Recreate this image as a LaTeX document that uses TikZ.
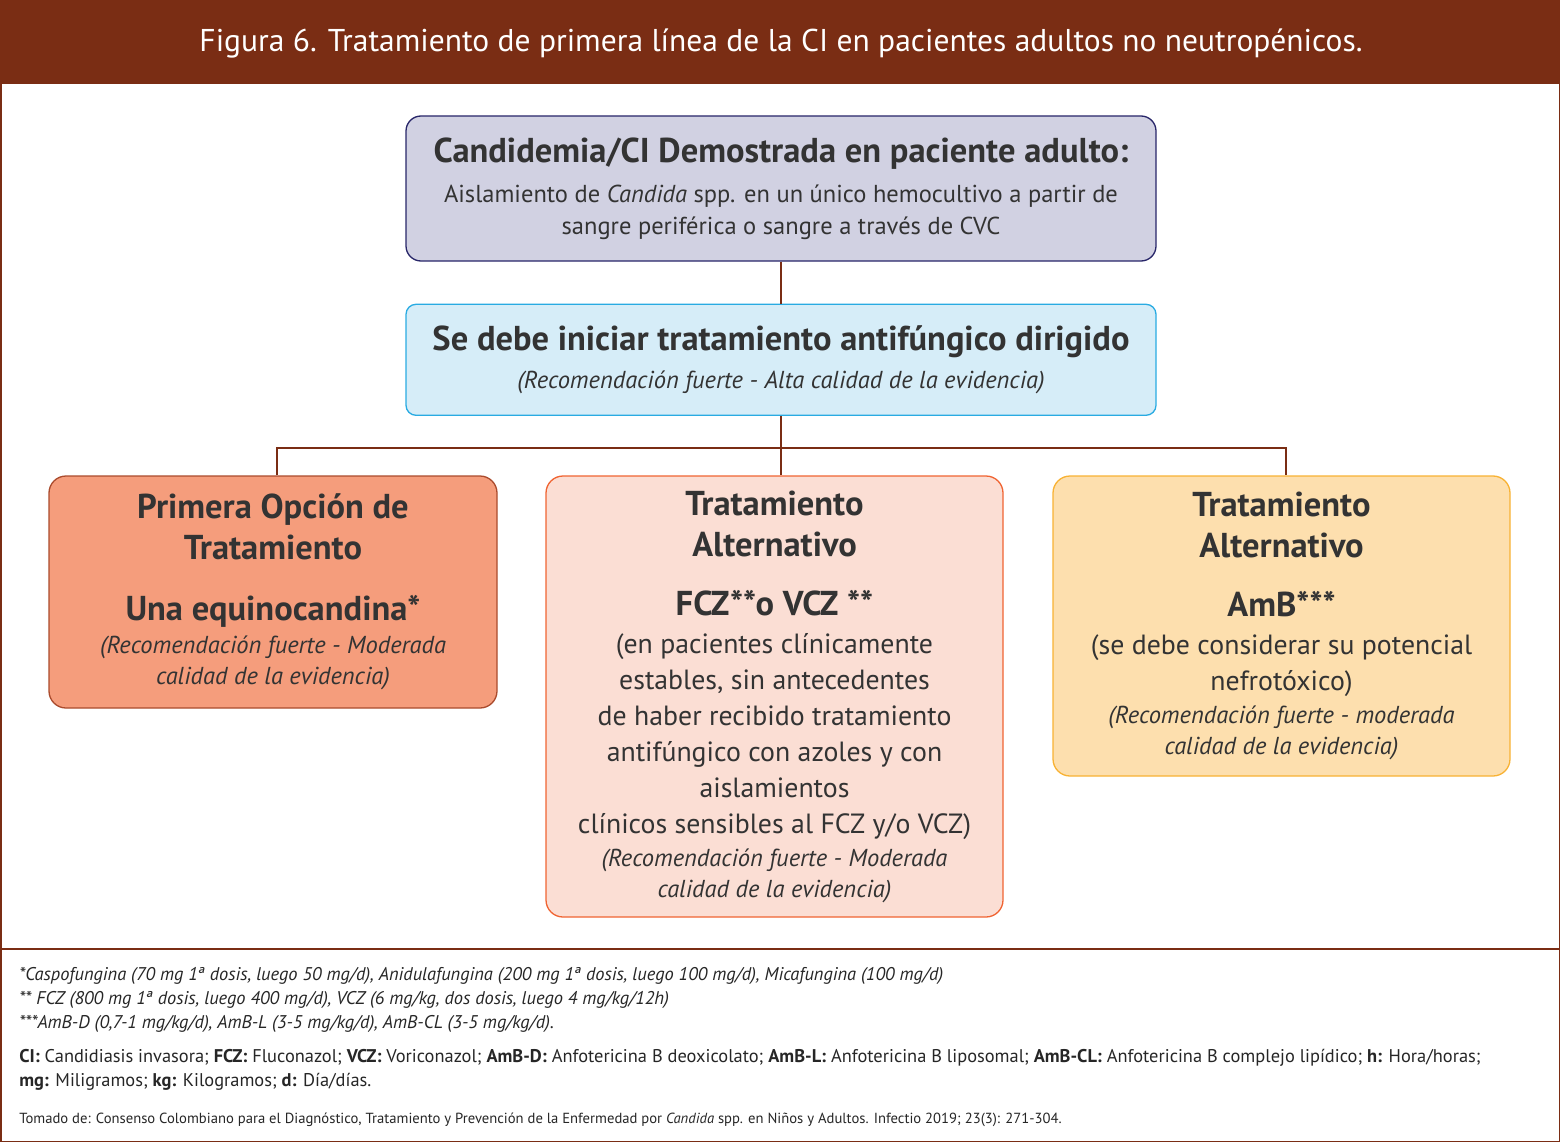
\documentclass[tikz,border=0pt]{standalone}
\usepackage{fontspec}
\setmainfont{PT Sans}
\usepackage{xcolor}
\usetikzlibrary{calc,positioning}

\definecolor{marron}{RGB}{122,45,20}
\definecolor{texto}{RGB}{51,51,51}
\definecolor{lilaf}{RGB}{209,209,226}
\definecolor{lilab}{RGB}{40,38,105}
\definecolor{celestef}{RGB}{214,237,248}
\definecolor{celesteb}{RGB}{41,171,226}
\definecolor{salmonf}{RGB}{245,157,124}
\definecolor{salmonb}{RGB}{170,75,45}
\definecolor{rosaf}{RGB}{251,222,212}
\definecolor{rosab}{RGB}{240,100,50}
\definecolor{amarf}{RGB}{253,223,174}
\definecolor{amarb}{RGB}{248,178,52}

\newcommand\hdfont{\fontsize{34.5}{36}\selectfont\bfseries}
\newcommand\txfont{\fontsize{27.8}{36}\selectfont}
\newcommand\smfont{\fontsize{24.5}{36}\selectfont}
\newcommand\itfont{\fontsize{24.5}{36}\selectfont\itshape}
\newcommand\ftfont{\fontsize{18.4}{24}\selectfont}

\begin{document}
\begin{tikzpicture}[x=1pt,y=-1pt,semithick]
\tikzstyle{caja}=[rectangle, rounded corners=17pt, line width=1.3pt, inner sep=0pt, align=center, text=texto, font=\txfont]
\tikzstyle{conn}=[draw=marron, line width=2pt]
\tikzstyle{nota}=[anchor=base west, inner sep=0pt, text=black!85, font=\ftfont]

\useasboundingbox (0,0) rectangle (1560,1142);
\fill[marron] (0,0) rectangle (1560,84);
\draw[marron, line width=1.5pt] (0.75,84) -- (0.75,1141.25) -- (1559.25,1141.25) -- (1559.25,84);
\draw[marron, line width=1.5pt] (0,949) -- (1560,949);

\node[anchor=base, inner sep=0pt, text=white, font=\fontsize{31.5}{36}\selectfont] (title) at (781,52)
  {Figura 6. Tratamiento de primera línea de la CI en pacientes adultos no neutropénicos.};

\node[caja, fill=lilaf, draw=lilab, rounded corners=15pt, minimum width=750, minimum height=145] (diag) at (781,188.5)
  {\hdfont Candidemia/CI Demostrada en paciente adulto:\\[4pt]
   \smfont Aislamiento de \textit{Candida} spp. en un único hemocultivo a partir de\\[-4pt]
   \smfont sangre periférica o sangre a través de CVC};
\node[caja, fill=celestef, draw=celesteb, rounded corners=10pt, minimum width=750, minimum height=111] (inicio) [below=42pt of diag]
  {\hdfont Se debe iniciar tratamiento antifúngico dirigido\\[2pt]
   \itfont (Recomendación fuerte - Alta calidad de la evidencia)};

\node[caja, fill=salmonf, draw=salmonb, minimum width=448, minimum height=232] (primera) at (273,592)
  {\hdfont Primera Opción de\\[5pt] \hdfont Tratamiento\\[25pt]
   \hdfont Una equinocandina*\\[-3pt]
   \itfont (Recomendación fuerte - Moderada\\[-5pt] \itfont calidad de la evidencia)};
\node[caja, fill=rosaf, draw=rosab, minimum width=457, minimum height=441] (altfcz) at (774.5,696.5)
  {\hdfont Tratamiento\\[5pt] \hdfont Alternativo\\[23pt]
   \hdfont FCZ**o VCZ **\\[2pt]
   (en pacientes clínicamente\\ estables, sin antecedentes\\ de haber recibido tratamiento\\
   antifúngico con azoles y con\\ aislamientos\\ clínicos sensibles al FCZ y/o VCZ)\\[-3pt]
   \itfont (Recomendación fuerte - Moderada\\[-5pt] \itfont calidad de la evidencia)};
\node[caja, fill=amarf, draw=amarb, minimum width=457, minimum height=300] (altamb) at (1281.5,626)
  {\hdfont Tratamiento\\[5pt] \hdfont Alternativo\\[23pt]
   \hdfont AmB***\\[2pt]
   (se debe considerar su potencial\\ nefrotóxico)\\[-3pt]
   \itfont (Recomendación fuerte - moderada\\[-5pt] \itfont calidad de la evidencia)};

\coordinate (bus) at ($(inicio.south)+(0,32)$);
\path[conn]
  (diag.south) -- (inicio.north)
  (inicio.south) -- (inicio.south |- altfcz.north)
  ($(primera.north)+(4,0)$) |- (bus) -| ($(altamb.north)+(4,0)$);

% notas al pie
\node[nota] (nota1) at (19,980) {\itshape *Caspofungina (70 mg 1ª dosis, luego 50 mg/d), Anidulafungina (200 mg 1ª dosis, luego 100 mg/d), Micafungina (100 mg/d)};
\node[nota] (nota2) at (19,1004) {\itshape ** FCZ (800 mg 1ª dosis, luego 400 mg/d), VCZ (6 mg/kg, dos dosis, luego 4 mg/kg/12h)};
\node[nota] (nota3) at (19,1028) {\itshape ***AmB-D (0,7-1 mg/kg/d), AmB-L (3-5 mg/kg/d), AmB-CL (3-5 mg/kg/d).};
\node[nota] (abrev1) at (19,1062) {\textbf{CI:} Candidiasis invasora; \textbf{FCZ:} Fluconazol; \textbf{VCZ:} Voriconazol; \textbf{AmB-D:} Anfotericina B deoxicolato; \textbf{AmB-L:} Anfotericina B liposomal; \textbf{AmB-CL:} Anfotericina B complejo lipídico; \textbf{h:} Hora/horas;};
\node[nota] (abrev2) at (19,1086) {\textbf{mg:} Miligramos; \textbf{kg:} Kilogramos; \textbf{d:} Día/días.};
\node[nota, font=\fontsize{14.65}{18}\selectfont] (fuente) at (19,1123) {Tomado de: Consenso Colombiano para el Diagnóstico, Tratamiento y Prevención de la Enfermedad por \textit{Candida} spp. en Niños y Adultos. Infectio 2019; 23(3): 271-304.};
\end{tikzpicture}
\end{document}
